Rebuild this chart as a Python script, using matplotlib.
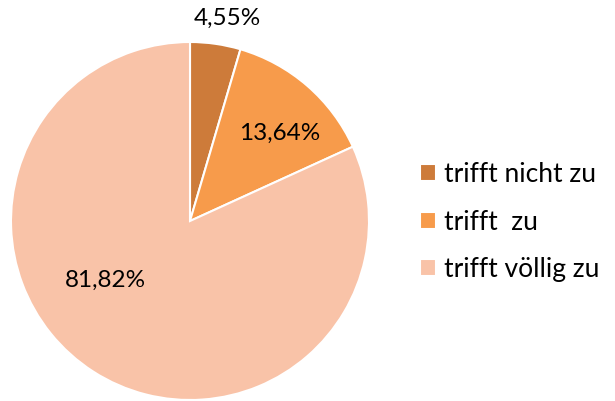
import matplotlib
matplotlib.use("Agg")
import matplotlib.pyplot as plt

plt.rcParams["font.family"] = ["Lato", "DejaVu Sans"]

categories = ["trifft nicht zu", "trifft  zu", "trifft völlig zu"]
shares = [4.55, 13.64, 81.82]
colors = ["#CD7B3A", "#F79B4B", "#F9C3A8"]

W, H = 615, 401
fig = plt.figure(figsize=(W / 100, H / 100), dpi=100)

# pie box in pixels: centre (190, 221), radius 179
cx, cy, r = 190, 221, 179
ax = fig.add_axes([(cx - r) / W, (H - cy - r) / H, 2 * r / W, 2 * r / H])

wedges, texts, autotexts = ax.pie(
    shares,
    colors=colors,
    startangle=90,
    counterclock=False,
    autopct="%.2f%%",
    wedgeprops=dict(edgecolor="white", linewidth=1.5),
    textprops=dict(fontsize=17.5, color="black"),
)
ax.set_xlim(-1, 1)
ax.set_ylim(-1, 1)

# label placement like the original (outside for the small slice)
label_pos = [(0.21, 1.13), (0.50, 0.49), (-0.47, -0.33)]
for t, v, (x, y) in zip(autotexts, shares, label_pos):
    t.set_text(f"{v:.2f}%".replace(".", ","))
    t.set_position((x, y))
    t.set_ha("center")
    t.set_va("center")

fig.legend(
    wedges,
    categories,
    loc="center left",
    bbox_to_anchor=(396 / W, 1 - 222 / H),
    frameon=False,
    fontsize=19,
    handlelength=0.6,
    handleheight=0.6,
    handletextpad=0.3,
    labelspacing=0.85,
)

fig.savefig("out.png", dpi=100)
